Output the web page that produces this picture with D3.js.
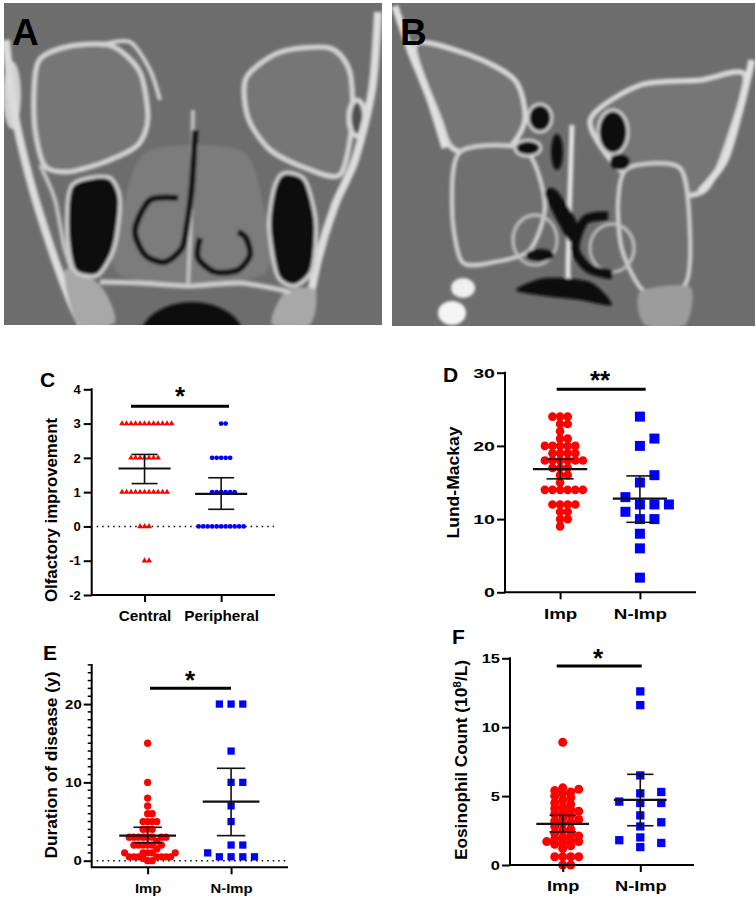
<!DOCTYPE html>
<html>
<head>
<meta charset="utf-8">
<script src="https://cdn.jsdelivr.net/npm/d3@7"></script>
<style>
  body { margin: 0; background: #fff; }
  svg { display: block; }
  text { font-family: "Liberation Sans", Arial, sans-serif; font-weight: bold; fill: #000; }
</style>
</head>
<body>
<script>
// ---- data ----
var catsC = ["Central", "Peripheral"];
var catsImp = ["Imp", "N-Imp"];

// C: olfactory improvement
var olfCentral = [3,3,3,3,3,3,3,3,3,3,3,3, 2,2,2,2,2,2,2, 1,1,1,1,1,1,1,1,1,1,1, 0,0,0, -1,-1];
var olfPeripheral = [3,3, 2,2,2,2,2, 1,1,1,1,1,1, 0,0,0,0,0,0,0,0,0,0,0];
var meanC = [1.69, 0.95], loC = [1.25, 0.5], hiC = [2.1, 1.42];

// D: Lund-Mackay
var lundImp = [24,24,24, 23,23, 22, 21,21, 20,20,20,20,20, 19,19,19,19, 18,18,18,18,18,18,
               17,17,17, 16,16, 15, 14,14,14,14,14,14, 12,12,12,12, 11,11, 10,10, 9];
var lundNImp = [24,21,20,16,15,13,12,12,12,11,10,10,8,6,2];
var meanD = [16.84, 12.8], loD = [15.5, 9.56], hiD = [18.2, 15.9];

// E: duration of disease (y)
var durImp = [15,10,8,7,6,6,5,5,5,5,4,4,4,3,3,3,3,3,3,3,3,2.5,2,2,2,2,2,2,1.5,
              1,1,1,1,1,0.5,0.5,0.5,0.5,0.5,0.5,0.5,0.3,0,0];
var durNImp = [20,20,20,14,10,10,7,5,2,2,1,0.5,0.5,0.5,0.5];
var meanE = [3.19, 7.54], loE = [2.3, 3.2], hiE = [4.27, 11.8];

// F: eosinophil count (10^8/L)
var eosImp = [0,0,0.6,0.6,0.6,0.6,1.2,1.4,1.5,1.6,1.7,1.7,1.8,1.9,2.0,2.1,2.2,2.3,2.5,2.6,2.8,
              3.0,3.1,3.2,3.3,3.4,3.6,3.7,3.8,3.9,4.0,4.1,4.2,4.4,4.5,4.7,4.9,5.0,5.2,5.3,5.4,5.5,5.6,8.9];
var eosNImp = [12.6,11.6,6.5,5.2,5.3,4.5,4.5,4.6,3.6,3.1,2.8,1.8,1.3,2.0,1.6];
var meanF = [2.98, 4.72], loF = [2.4, 2.85], hiF = [3.6, 6.58];

var ticksC = [-2,-1,0,1,2,3,4], ticksD = [0,10,20,30], ticksE = [0,10,20], ticksF = [0,5,10,15];

var svg = d3.select("body").append("svg").attr("width", 756).attr("height", 899);
var defs = svg.append("defs");
defs.append("filter").attr("id", "soft")
    .attr("x", "-5%").attr("y", "-5%").attr("width", "110%").attr("height", "110%")
    .append("feGaussianBlur").attr("stdDeviation", 1.8);

//---- CT pictures (drawn as rough shapes) ----
var lineClosed = d3.line().curve(d3.curveCardinalClosed.tension(0.2));
var lineOpen = d3.line().curve(d3.curveCardinal.tension(0.2));

var ctA = [
  ["c", [[38,62],[70,46],[112,46],[140,72],[148,118],[138,145],[105,162],[68,172],[44,165],[34,120]], "#767676", "#d2d2d2", 5],
  ["c", [[246,78],[280,52],[330,48],[350,72],[352,125],[340,175],[305,168],[270,150],[248,118]], "#767676", "#d2d2d2", 5],
  ["c", [[150,150],[240,150],[262,200],[262,275],[120,275],[125,200]], "#7b7b7b", "none", 0],
  ["e", [12,95,9,34], "#cfcfcf", "none", 0],
  ["e", [357,118,8,18], "#505050", "#d6d6d6", 5],
  ["o", [[6,40],[14,110],[30,180],[50,245],[70,300],[82,325]], "none", "#dcdcdc", 8],
  ["o", [[40,165],[55,200],[65,250],[80,290],[100,312]], "none", "#c4c4c4", 4],
  ["o", [[378,12],[372,90],[355,160],[335,205],[318,260],[305,325]], "none", "#dcdcdc", 8],
  ["c", [[65,270],[100,285],[115,322],[78,324]], "#a8a8a8", "none", 0],
  ["c", [[285,292],[315,290],[310,324],[272,324]], "#a8a8a8", "none", 0],
  ["c", [[72,185],[108,177],[120,198],[116,240],[108,262],[96,276],[74,270],[67,230]], "#111", "#cccccc", 4],
  ["c", [[284,173],[305,180],[316,222],[312,270],[294,286],[277,275],[269,226],[274,188]], "#111", "#cccccc", 4],
  ["o", [[100,282],[140,283],[190,286],[240,283],[290,292]], "none", "#cccccc", 5],
  ["o", [[193,110],[192,180],[190,240],[188,285]], "none", "#c0c0c0", 4],
  ["o", [[100,45],[130,42],[150,70],[160,100]], "none", "#d2d2d2", 4],
  ["o", [[178,198],[150,200],[135,230],[145,255],[165,262],[182,248],[187,225],[192,185],[195,130]], "none", "#111", 6],
  ["o", [[200,238],[198,258],[215,272],[238,270],[250,255],[246,238],[238,232]], "none", "#111", 6],
  ["e", [192,338,52,36], "#111", "none", 0]
];

var ctB = [
  ["c", [[415,45],[470,55],[515,80],[525,120],[505,150],[455,150],[440,120]], "#767676", "#d8d8d8", 5],
  ["c", [[590,120],[640,85],[700,80],[745,75],[725,150],[705,190],[670,195],[620,170]], "#767676", "#d8d8d8", 5],
  ["o", [[395,6],[410,50],[430,100],[445,148]], "none", "#e0e0e0", 7],
  ["o", [[752,60],[740,110],[725,160],[700,192]], "none", "#e0e0e0", 7],
  ["c", [[460,152],[525,150],[545,205],[530,250],[495,262],[462,262],[452,210]], "#707070", "#d0d0d0", 4],
  ["c", [[628,168],[680,168],[690,230],[685,285],[645,292],[622,250],[618,200]], "#707070", "#d0d0d0", 4],
  ["e", [540,118,12,14], "#0d0d0d", "#d0d0d0", 3],
  ["e", [528,148,13,8], "#0d0d0d", "#d0d0d0", 3],
  ["e", [613,132,15,22], "#0d0d0d", "#d0d0d0", 3],
  ["e", [557,152,6,18], "#0d0d0d", "none", 0],
  ["e", [620,162,10,8], "#0d0d0d", "none", 0],
  ["o", [[572,125],[570,190],[568,270],[570,292]], "none", "#e4e4e4", 5],
  ["e", [535,240,22,25], "none", "#c0c0c0", 3],
  ["e", [612,248,22,24], "none", "#c0c0c0", 3],
  ["c", [[545,195],[556,190],[578,225],[570,242]], "#0d0d0d", "none", 0],
  ["o", [[608,216],[585,220],[575,248],[588,268],[612,275]], "none", "#0d0d0d", 9],
  ["e", [540,255,14,6], "#0d0d0d", "none", 0],
  ["c", [[516,290],[545,278],[590,282],[612,305],[580,300],[545,296]], "#0d0d0d", "none", 0],
  ["e", [463,288,12,10], "#f0f0f0", "none", 0],
  ["e", [452,313,14,12], "#f5f5f5", "none", 0],
  ["c", [[640,292],[690,287],[685,325],[645,325]], "#9c9c9c", "none", 0]
];

function ctImage(id, x0, y0, w, h, shapes, letter) {
  defs.append("clipPath").attr("id", id).append("rect")
      .attr("x", x0).attr("y", y0).attr("width", w).attr("height", h);
  var g = svg.append("g").attr("clip-path", "url(#" + id + ")");
  g.append("rect").attr("x", x0).attr("y", y0).attr("width", w).attr("height", h).attr("fill", "#6d6d6d");
  var inner = g.append("g").attr("filter", "url(#soft)");
  shapes.forEach(function (s) {
    var el;
    if (s[0] == "e") {
      el = inner.append("ellipse").attr("cx", s[1][0]).attr("cy", s[1][1]).attr("rx", s[1][2]).attr("ry", s[1][3]);
    } else {
      el = inner.append("path").attr("d", s[0] == "c" ? lineClosed(s[1]) : lineOpen(s[1]));
    }
    el.attr("fill", s[2]).attr("stroke", s[3]).attr("stroke-width", s[4]);
  });
  svg.append("text").attr("x", x0 + 8).attr("y", y0 + 42)
      .attr("font-size", 37).text(letter);
}

ctImage("clipA", 4, 3, 378, 322, ctA, "A");
ctImage("clipB", 392, 3, 363, 323, ctB, "B");

//---- scatter panels ----
function swarm(vals, y, step, thr) {
  var placed = [];
  vals.slice().sort(d3.ascending).forEach(function (v) {
    var py = y(v), off = 0;
    for (var k = 0; k < 60; k++) {
      off = k == 0 ? 0 : (k % 2 ? 1 : -1) * Math.ceil(k / 2) * step;
      var hit = placed.some(function (p) {
        return Math.abs(p.y - py) < thr && Math.abs(p.off - off) < step * 0.99;
      });
      if (!hit) break;
    }
    placed.push({v: v, y: py, off: off});
  });
  return placed;
}

function stretch(sel, k) {
  sel.each(function () {
    var w = this.getComputedTextLength();
    d3.select(this).attr("textLength", w * k).attr("lengthAdjust", "spacingAndGlyphs");
  });
}

function drawPanel(p) {
  var g = svg.append("g");
  var x = d3.scalePoint().domain(p.cats).range([p.left, p.right]).padding(p.pad);
  var y = d3.scaleLinear().domain(p.domain).range([p.y0, p.y1]);
  var step = x.step();

  if (p.zero) {
    g.append("line").attr("x1", p.left + 5).attr("x2", p.right)
        .attr("y1", y(0)).attr("y2", y(0))
        .attr("stroke", "#000").attr("stroke-width", 1.5).attr("stroke-dasharray", "1.5,4");
  }

  p.groups.forEach(function (vals, i) {
    var pts = swarm(vals, y, p.step[i], p.thr[i]);
    g.selectAll(null).data(pts).enter().append("path")
        .attr("transform", function (d) { return "translate(" + (x(p.cats[i]) + d.off) + "," + d.y + ")"; })
        .attr("d", d3.symbol().type(p.shape[i]).size(p.size[i]))
        .attr("fill", p.color[i]);
  });

  // mean with error bars
  p.cats.forEach(function (c, i) {
    var cx = x(c), mh = step * 0.34, ch = step * 0.17;
    var eb = g.append("g").attr("stroke", "#111");
    eb.append("line").attr("x1", cx).attr("x2", cx).attr("y1", y(p.lo[i])).attr("y2", y(p.hi[i])).attr("stroke-width", 1.6);
    [p.lo[i], p.hi[i]].forEach(function (v) {
      eb.append("line").attr("x1", cx - ch).attr("x2", cx + ch).attr("y1", y(v)).attr("y2", y(v)).attr("stroke-width", 1.6);
    });
    eb.append("line").attr("x1", cx - mh).attr("x2", cx + mh).attr("y1", y(p.mean[i])).attr("y2", y(p.mean[i])).attr("stroke-width", 2.2);
  });

  // y axis
  var yg = g.append("g").attr("transform", "translate(" + p.left + ",0)")
      .call(d3.axisLeft(y).tickValues(p.ticks).tickSize(8).tickPadding(p.tpad).tickSizeOuter(0)
          .tickFormat(function (d) { return String(d); }));
  yg.select(".domain").remove();
  yg.attr("font-family", null);
  yg.selectAll("line").attr("stroke", "#000").attr("stroke-width", 2);
  yg.selectAll("text").attr("font-size", p.tickFont);
  stretch(yg.selectAll("text"), p.tickStretch);
  if (p.minor) {
    d3.range(p.domain[0], p.domain[1] + 1, p.minor).filter(function (v) { return p.ticks.indexOf(v) < 0; })
      .forEach(function (v) {
        g.append("line").attr("x1", p.left - 4).attr("x2", p.left).attr("y1", y(v)).attr("y2", y(v))
            .attr("stroke", "#000").attr("stroke-width", 1.5);
      });
  }

  // x axis
  var xg = g.append("g").attr("transform", "translate(0," + p.axisY + ")")
      .call(d3.axisBottom(x).tickSize(7).tickPadding(9).tickSizeOuter(0));
  xg.select(".domain").remove();
  xg.attr("font-family", null);
  xg.selectAll("line").attr("stroke", "#000").attr("stroke-width", 2);
  xg.selectAll("text").attr("font-size", p.catFont);
  stretch(xg.selectAll("text"), p.catStretch);

  g.append("path").attr("d", "M" + p.left + "," + y(p.domain[1]) + "V" + p.axisY + "H" + p.right)
      .attr("fill", "none").attr("stroke", "#000").attr("stroke-width", 2).attr("stroke-linecap", "square");

  // axis title
  var t = g.append("text").attr("transform", "translate(" + p.titleX + "," + p.titleY + ") rotate(-90)")
      .attr("text-anchor", "middle").attr("dy", "0.35em").attr("font-size", p.titleFont);
  p.title.forEach(function (part) {
    var ts = t.append("tspan").text(part[0]);
    if (part[1] == 1) ts.attr("font-size", p.titleFont * 0.7).attr("dy", -6);
    if (part[1] == -1) ts.attr("dy", 6);
  });
  t.attr("textLength", p.titleLen).attr("lengthAdjust", "spacingAndGlyphs");

  // significance
  g.append("line").attr("x1", p.sig[0]).attr("x2", p.sig[1]).attr("y1", p.sig[2]).attr("y2", p.sig[2])
      .attr("stroke", "#000").attr("stroke-width", 3);
  g.append("text").attr("x", p.star[0]).attr("y", p.star[1]).attr("text-anchor", "middle")
      .attr("font-size", 26).text(p.star[2]);

  g.append("text").attr("x", p.letter[0]).attr("y", p.letter[1]).attr("font-size", 21).text(p.letter[2]);
}

var red = "#ff0000", blue = "#0000ff";

drawPanel({
  cats: catsC, groups: [olfCentral, olfPeripheral], mean: meanC, lo: loC, hi: hiC,
  shape: [d3.symbolTriangle, d3.symbolCircle], size: [15, 18], color: [red, blue],
  step: [4.5, 4.5], thr: [4, 4],
  domain: [-2, 4], y0: 595, y1: 389.3, axisY: 595, left: 91.7, right: 274, pad: 0.69,
  ticks: ticksC, tpad: 3, tickFont: 13, tickStretch: 1.0, catFont: 14, catStretch: 1.09,
  title: [["Olfactory improvement", 0]], titleX: 51, titleY: 510, titleLen: 184, titleFont: 16,
  zero: true, sig: [131, 229, 406.3], star: [180, 405, "*"], letter: [40, 387, "C"]
});

drawPanel({
  cats: catsImp, groups: [lundImp, lundNImp], mean: meanD, lo: loD, hi: hiD,
  shape: [d3.symbolCircle, d3.symbolSquare], size: [59, 100], color: [red, blue],
  step: [7.6, 14.5], thr: [7, 9],
  domain: [0, 30], y0: 592.3, y1: 372.7, axisY: 592.3, left: 505, right: 695, pad: 0.69,
  ticks: ticksD, tpad: 2, tickFont: 13.5, tickStretch: 1.45, catFont: 15, catStretch: 1.25,
  title: [["Lund-Mackay", 0]], titleX: 453, titleY: 482.5, titleLen: 112, titleFont: 17,
  zero: false, sig: [556.7, 645.7, 389.3], star: [600, 388.5, "**"], letter: [443, 382, "D"]
});

drawPanel({
  cats: catsImp, groups: [durImp, durNImp], mean: meanE, lo: loE, hi: hiE,
  shape: [d3.symbolCircle, d3.symbolSquare], size: [41, 53], color: [red, blue],
  step: [4.6, 11.7], thr: [4, 6],
  domain: [0, 25], y0: 860.7, y1: 664.9, axisY: 867.3, left: 91.7, right: 287, pad: 0.67,
  ticks: ticksE, minor: 1, tpad: 2, tickFont: 13, tickStretch: 1.15, catFont: 13.5, catStretch: 1.1,
  title: [["Duration of disease (y)", 0]], titleX: 51.5, titleY: 765, titleLen: 187, titleFont: 16,
  zero: true, sig: [150, 231, 688.3], star: [190, 688.5, "*"], letter: [43, 660, "E"]
});

drawPanel({
  cats: catsImp, groups: [eosImp, eosNImp], mean: meanF, lo: loF, hi: hiF,
  shape: [d3.symbolCircle, d3.symbolSquare], size: [64, 69], color: [red, blue],
  step: [8, 21], thr: [5.5, 8],
  domain: [0, 15], y0: 865, y1: 658.3, axisY: 865, left: 510, right: 693, pad: 0.68,
  ticks: ticksF, tpad: 2, tickFont: 13.5, tickStretch: 1.22, catFont: 14, catStretch: 1.3,
  title: [["Eosinophil Count (10", 0], ["8", 1], ["/L)", -1]], titleX: 461, titleY: 760, titleLen: 200, titleFont: 16,
  zero: false, sig: [556.7, 641.7, 666], star: [598, 666.5, "*"], letter: [452, 644, "F"]
});
</script>
</body>
</html>
